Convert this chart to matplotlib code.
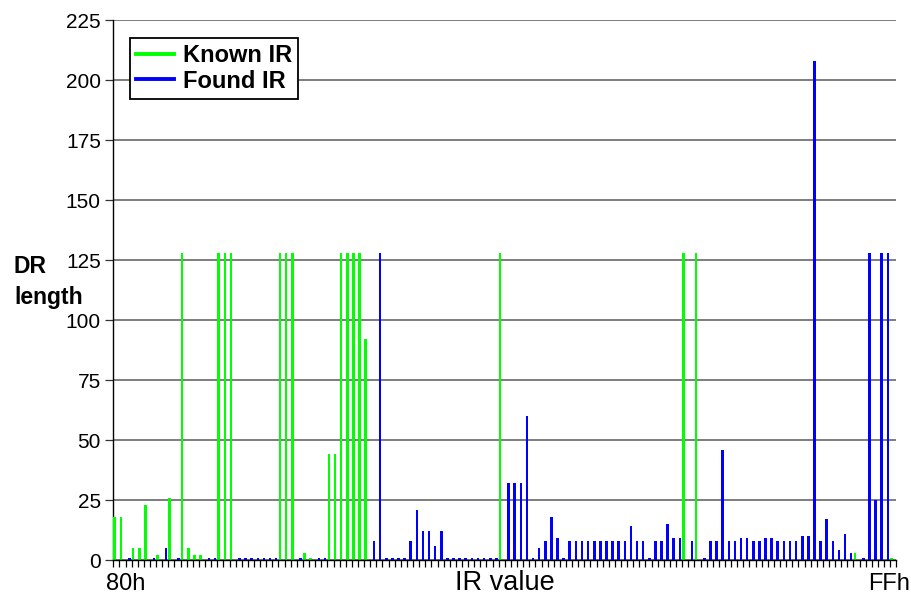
import matplotlib
matplotlib.use("Agg")
import matplotlib.pyplot as plt
from matplotlib.lines import Line2D
import matplotlib.transforms as mtransforms
import numpy as np

plt.rcParams['font.family'] = ['Liberation Sans', 'DejaVu Sans']

# IR values 80h..FFh (128 categories)
categories = [f"{v:02X}h" for v in range(0x80, 0x100)]

known_ir = [0] * 128
found_ir = [0] * 128

known_vals = {0: 18, 1: 18, 3: 5, 4: 5, 5: 23, 7: 2, 9: 26, 11: 128, 12: 5, 13: 2, 14: 2,
              17: 128, 18: 128, 19: 128, 27: 128, 28: 128, 29: 128, 31: 3, 32: 1,
              35: 44, 36: 44, 37: 128, 38: 128, 39: 128, 40: 128, 41: 92,
              63: 128, 93: 128, 95: 128, 121: 3, 127: 1}
found_vals = {2: 1, 6: 1, 8: 5, 10: 1, 15: 1, 16: 1,
              20: 1, 21: 1, 22: 1, 23: 1, 24: 1, 25: 1, 26: 1, 30: 1, 33: 1, 34: 1,
              42: 8, 43: 128, 44: 1, 45: 1, 46: 1, 47: 1, 48: 8, 49: 21, 50: 12, 51: 12,
              52: 6, 53: 12, 54: 1, 55: 1, 56: 1, 57: 1, 58: 1, 59: 1, 60: 1, 61: 1, 62: 1,
              64: 32, 65: 32, 66: 32, 67: 60, 68: 1, 69: 5, 70: 8, 71: 18, 72: 9, 73: 1,
              74: 8, 75: 8, 76: 8, 77: 8, 78: 8, 79: 8, 80: 8, 81: 8, 82: 8, 83: 8,
              84: 14, 85: 8, 86: 8, 87: 1, 88: 8, 89: 8, 90: 15, 91: 9, 92: 9,
              94: 8, 96: 1, 97: 8, 98: 8, 99: 46, 100: 8, 101: 8, 102: 9, 103: 9,
              104: 8, 105: 8, 106: 9, 107: 9, 108: 8, 109: 8, 110: 8, 111: 8,
              112: 10, 113: 10, 114: 208, 115: 8, 116: 17, 117: 8, 118: 4, 119: 11,
              120: 3, 122: 1, 123: 128, 124: 25, 125: 128, 126: 128}
for k, v in known_vals.items():
    known_ir[k] = v
for k, v in found_vals.items():
    found_ir[k] = v

x_tick_labels = ["80h", "FFh"]
y_ticks = [0, 25, 50, 75, 100, 125, 150, 175, 200, 225]

GREEN = "#00FF00"
BLUE = "#0000FF"

W, H = 912, 597
fig = plt.figure(figsize=(W / 100, H / 100), dpi=100)
ax = fig.add_axes([113.3 / W, (H - 560) / H, 783 / W, 540 / H])

idx = np.arange(len(categories))
ax.bar(idx + 0.24, known_ir, width=0.44, color=GREEN, linewidth=0, zorder=3)
ax.bar(idx + 0.62, found_ir, width=0.42, color=BLUE, linewidth=0, zorder=3)

ax.set_xlim(0, len(categories))
ax.set_ylim(0, 225)
ax.set_yticks(y_ticks)
ax.set_yticklabels([str(v) for v in y_ticks], fontsize=15)
ax.set_xticks(np.arange(0, len(categories) + 1))
ax.set_xticklabels([])
ax.tick_params(axis='x', direction='out', length=5, width=0.9, color='black')
ax.tick_params(axis='y', direction='out', length=6, width=0.9, color='#333333', pad=3)

ax.yaxis.grid(True, color='#5a5a5a', linewidth=1.1, zorder=0)
ax.set_axisbelow(True)
for s in ['top', 'right']:
    ax.spines[s].set_visible(False)
ax.spines['left'].set_color('black')
ax.spines['bottom'].set_color('black')
ax.spines['left'].set_linewidth(1.0)
ax.spines['bottom'].set_linewidth(1.0)
ax.spines['bottom'].set_zorder(4)

# x labels at ends
trans = mtransforms.blended_transform_factory(ax.transData, fig.transFigure)
ax.text(2.1, 1 - 590 / H, x_tick_labels[0], transform=trans, ha='center', va='baseline', fontsize=17)
ax.text(126.8, 1 - 590 / H, x_tick_labels[1], transform=trans, ha='center', va='baseline', fontsize=17)

fig.text(0.5 * (113.3 + 896.3) / W, 1 - 590 / H, "IR value", ha='center', va='baseline', fontsize=19.5)

fig.text(14 / W, 1 - 273 / H, "DR", ha='left', va='baseline', fontsize=16.5, fontweight='bold')
fig.text(14 / W, 1 - 304 / H, "length", ha='left', va='baseline', fontsize=16.5, fontweight='bold')

handles = [Line2D([0], [0], color=GREEN, lw=2.8), Line2D([0], [0], color=BLUE, lw=2.8)]
leg = ax.legend(handles, ["Known IR", "Found IR"], loc='upper left',
                bbox_to_anchor=((130 - 113.3) / 783, (560 - 38) / 540),
                borderaxespad=0, fancybox=False, framealpha=1, edgecolor='black',
                prop={'weight': 'bold', 'size': 17}, handlelength=1.6, handletextpad=0.4,
                borderpad=0.25, labelspacing=0.12)
leg.get_frame().set_linewidth(1.3)
leg.set_zorder(10)

fig.savefig("out.png", dpi=100)
